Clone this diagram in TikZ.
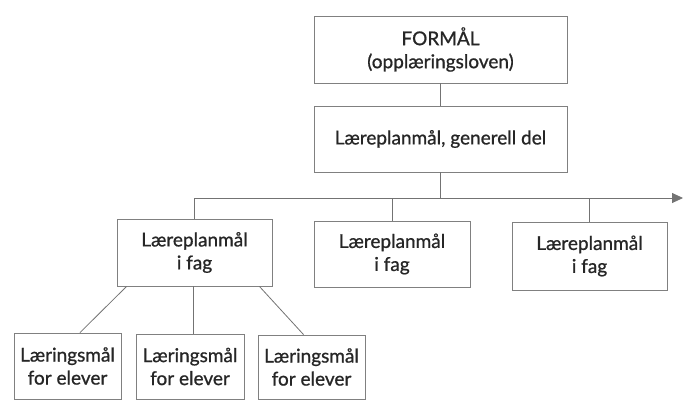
\documentclass[tikz,border=0pt]{standalone}
\usepackage{fontspec}
\setmainfont{Lato}[FakeBold=0.9]
\usetikzlibrary{arrows.meta,positioning,calc}

\begin{document}
\begin{tikzpicture}[
  x=1pt, y=-1pt,
  >={Triangle[length=11pt,width=10pt]},
  every node/.style={font=\fontsize{19}{23}\selectfont, text=black!85},
  topbox/.style={draw=black!50, line width=0.9pt, align=center, minimum width=253pt, minimum height=67pt, inner sep=0pt},
  fagbox/.style={draw=black!50, line width=0.9pt, align=center, minimum width=155pt, minimum height=67pt, inner sep=0pt},
  elevbox/.style={draw=black!50, line width=0.9pt, align=center, minimum width=107pt, minimum height=66pt, inner sep=0pt},
  conn/.style={draw=black!55, line width=0.8pt}
]
\useasboundingbox (0,0) rectangle (687,400);

\node[topbox] (formaal) at (440.5,49.5) {FORMÅL\\(opplæringsloven)};
\node[topbox, minimum height=66pt] (generell) at (440.5,139) {Læreplanmål, generell del};

\node[fagbox] (fag1) at (194.5,252.5) {Læreplanmål\\i fag};
\node[fagbox, minimum width=156pt, minimum height=66pt] (fag2) at (392,254) {Læreplanmål\\i fag};
\node[fagbox, minimum height=68pt] (fag3) at (589.5,256) {Læreplanmål\\i fag};

\node[elevbox] (elev1) at (67.5,366) {Læringsmål\\for elever};
\node[elevbox, minimum width=108pt, minimum height=65pt] (elev2) at (190,366.5) {Læringsmål\\for elever};
\node[elevbox, minimum height=64pt] (elev3) at (311.5,367) {Læringsmål\\for elever};

\coordinate (bus) at (440.5,198);
\coordinate (busend) at (683,198);

\draw[conn] (formaal) -- (generell);
\draw[conn] (generell.south) -- (bus);
\draw[conn, ->] (fag1.north |- bus) -- (busend);
\foreach \f in {fag1,fag2,fag3}
  \draw[conn] (\f.north) -- (\f.north |- bus);

\draw[conn] ([xshift=10pt]fag1.south west) -- ([xshift=12.5pt]elev1.north);
\draw[conn] ([xshift=-1.5pt]fag1.south) -- ([xshift=-1.5pt]fag1.south |- elev2.north);
\draw[conn] ([xshift=-13pt]fag1.south east) -- ([xshift=-8pt]elev3.north);
\end{tikzpicture}
\end{document}
